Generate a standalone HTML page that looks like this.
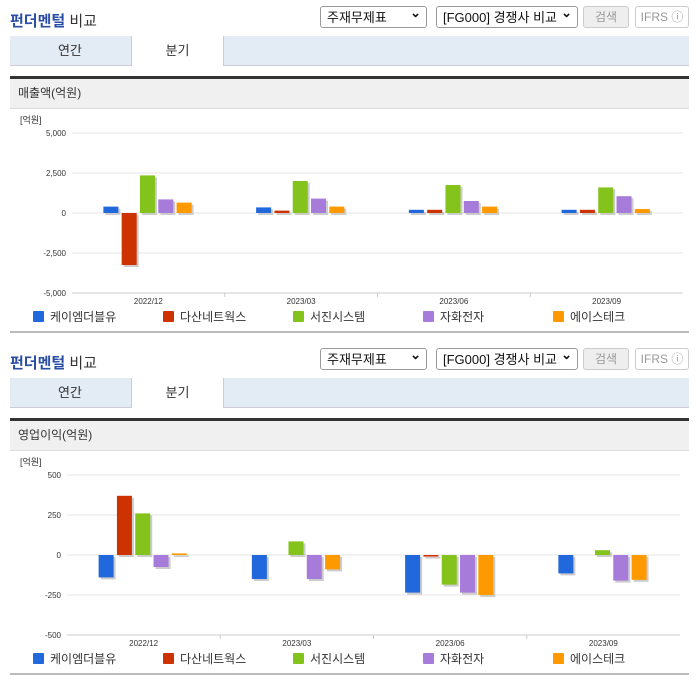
<!DOCTYPE html>
<html><head><meta charset="utf-8">
<style>
body{margin:0;width:696px;height:684px;background:#fff;font-family:"Liberation Sans","Noto Sans CJK KR",sans-serif;position:relative;overflow:hidden}
.blk{position:absolute;left:0;width:696px;height:340px}
.title{position:absolute;left:10px;top:10px;font-size:15px;font-weight:bold;color:#2a4ea6}
.title span{color:#333;font-weight:normal}
.sel{position:absolute;top:6px;height:22px;border:1px solid #999;border-radius:3px;font-size:13px;line-height:22px;padding-left:6px;box-sizing:border-box;color:#111;background:#fff}
.sel:after{content:"⌄";position:absolute;right:5px;top:-5px;font-weight:bold}
.btn{position:absolute;top:6px;height:22px;border:1px solid #ccc;border-radius:3px;font-size:12px;line-height:20px;text-align:center;box-sizing:border-box;color:#999;background:#eee}
.tabs{position:absolute;left:10px;top:36px;width:679px;height:29px;background:#e3ebf5;border-bottom:1px solid #ccd}
.tab{position:absolute;top:0;height:29px;line-height:29px;text-align:center;font-size:13px;color:#333}
.hdr{position:absolute;left:10px;top:76px;width:671px;height:29px;background:#f0f0f0;border-top:3px solid #333;border-bottom:1px solid #ddd;font-size:12px;line-height:29px;padding-left:8px;color:#333}
.bot{position:absolute;left:10px;top:331px;width:679px;height:2px;background:#bbb}
svg{position:absolute;left:0;top:0}
</style></head><body>
<script>
const categories=["2022/12","2023/03","2023/06","2023/09"];
const seriesNames=["케이엠더블유","다산네트웍스","서진시스템","자화전자","에이스테크"];
const colors=["#2168dc","#cc3300","#84c21c","#a77bd9","#ff9900"];
const sales0=[400,350,200,200];
const sales1=[-3250,150,200,200];
const sales2=[2350,2000,1750,1600];
const sales3=[850,900,750,1050];
const sales4=[650,400,400,250];
const salesTicks=[5000,2500,0,-2500,-5000];
const salesTickLabels=["5,000","2,500","0","-2,500","-5,000"];
const op0=[-140,-150,-235,-115];
const op1=[370,0,-10,0];
const op2=[260,85,-185,30];
const op3=[-75,-150,-235,-160];
const op4=[10,-90,-250,-155];
const opTicks=[500,250,0,-250,-500];
const opTickLabels=["500","250","0","-250","-500"];
const NS="http://www.w3.org/2000/svg";
function mk(tag,attrs,parent){const e=document.createElementNS(NS,tag);for(const k in attrs)e.setAttribute(k,attrs[k]);parent.appendChild(e);return e;}
function block(top,hdrText,series,ticks,tickLabels,x0,x1){
  const b=document.createElement('div');b.className='blk';b.style.top=top+'px';
  
  b.innerHTML='<div class="title">펀더멘털 <span>비교</span></div>'+
  '<div class="sel" style="left:320px;width:107px">주재무제표</div>'+
  '<div class="sel" style="left:436px;width:142px">[FG000] 경쟁사 비교</div>'+
  '<div class="btn" style="left:583px;width:46px">검색</div>'+
  '<div class="btn" style="left:635px;width:54px;background:#fff">IFRS ⓘ</div>'+
  '<div class="tabs"><div class="tab" style="left:0;width:120px">연간</div><div class="tab" style="left:121px;width:91px;background:#fff;height:30px;border-left:1px solid #ccd;border-right:1px solid #ccd">분기</div></div>'+
  '<div class="hdr">'+hdrText+'</div><div class="bot"></div>';
  document.body.appendChild(b);
  const svg=mk('svg',{width:696,height:340},b);
  
  
  const yT=133,yB=293,vMax=ticks[0],vMin=ticks[ticks.length-1];
  const y=v=>yT+(vMax-v)/(vMax-vMin)*(yB-yT);
  const gw=(x1-x0)/categories.length;
  const t=mk('text',{x:20,y:123,'font-size':9,fill:'#333'},svg);t.textContent='[억원]';
  
  ticks.forEach((v,i)=>{
    mk('line',{x1:x0,x2:x1,y1:y(v),y2:y(v),stroke:i==ticks.length-1?'#ccc':'#e4e4e4','stroke-width':1},svg);
    const l=mk('text',{x:x0-6,y:y(v)+3,'font-size':8,fill:'#333','text-anchor':'end'},svg);l.textContent=tickLabels[i];
    
  });
  categories.forEach((c,ci)=>{
    const cx=x0+gw*(ci+.5);
    if(ci>0)mk('line',{x1:x0+gw*ci,x2:x0+gw*ci,y1:yB,y2:yB+4,stroke:'#ccc'},svg);
    const l=mk('text',{x:cx,y:yB+11,'font-size':8,fill:'#333','text-anchor':'middle'},svg);l.textContent=c;
    
    series.forEach((s,si)=>{
      const v=s[ci];if(v===0)return;const bx=cx-45+si*18.3;const ya=y(Math.max(v,0)),yb=y(Math.min(v,0));
      const h=Math.max(yb-ya,1);
      mk('rect',{x:bx+2,y:ya+2,width:15,height:h,fill:'#ccc'},svg);
      const r=mk('rect',{x:bx,y:ya,width:15,height:h,fill:colors[si]},svg);
      
      
    });
  });
  const lx=[33,163,293,423,553];
  seriesNames.forEach((n,i)=>{
    const g=mk('g',{},svg);
    
    
    mk('rect',{x:lx[i],y:311,width:11,height:11,fill:colors[i],rx:1},g);
    const tx=mk('text',{x:lx[i]+17,y:321,'font-size':12,fill:'#333'},g);tx.textContent=n;
  });
}
block(0,'매출액(억원)',[sales0,sales1,sales2,sales3,sales4],salesTicks,salesTickLabels,72,683);
block(342,'영업이익(억원)',[op0,op1,op2,op3,op4],opTicks,opTickLabels,67,680);
</script>
</body></html>
